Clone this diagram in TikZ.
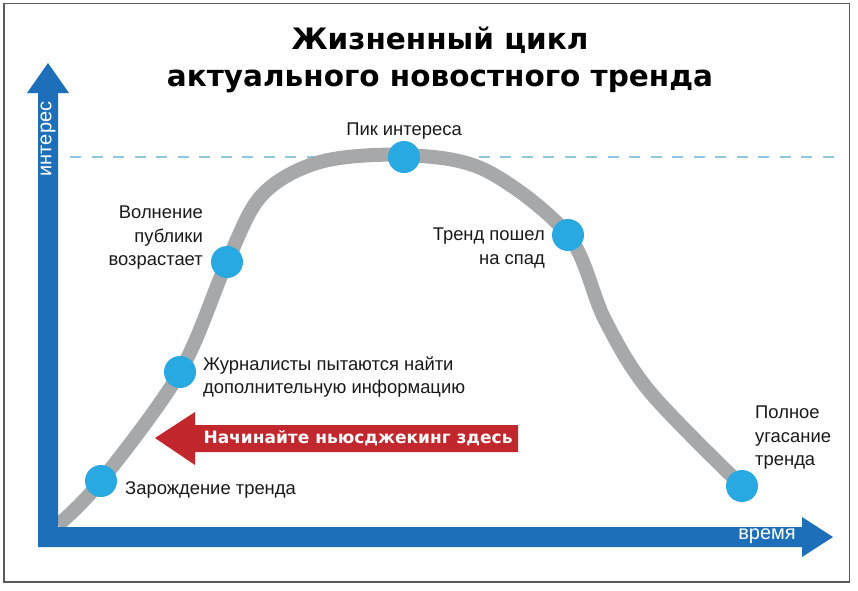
\documentclass[tikz,border=0pt]{standalone}
\usepackage{fontspec}
\setmainfont{Liberation Sans}
\newfontfamily\titlefont{DejaVu Sans}
\definecolor{axisblue}{HTML}{1E6FBA}
\definecolor{dotblue}{HTML}{29A9E1}
\definecolor{curvegray}{HTML}{A7A8AA}
\definecolor{dashblue}{HTML}{8EC8E0}
\definecolor{arrowred}{HTML}{C1272D}
\definecolor{framegray}{HTML}{5A5A5A}
\begin{document}
\begin{tikzpicture}[x=1pt,y=-1pt,
  dot/.style={circle,fill=dotblue,minimum size=32pt,inner sep=0pt},
  lbl/.style={font=\fontsize{18.4}{23.5}\selectfont,text=black!90,inner sep=0pt},
  axislbl/.style={font=\fontsize{20}{22}\selectfont,text=white,inner sep=0pt},
  titletxt/.style={font=\titlefont\bfseries\fontsize{29.5}{34}\selectfont,text=black,inner sep=0pt,anchor=base}]
\useasboundingbox (0,0) rectangle (858,590);
\fill[white] (0,0) rectangle (858,590);
\draw[framegray,line width=1.5pt] (4,3.5) rectangle (849.5,582);
% title
\node[titletxt] (t1) at (440,49) {Жизненный цикл};
\node[titletxt] (t2) at (440,86) {актуального новостного тренда};
% dashed peak level
\coordinate (d1) at (70,157);
\coordinate (d2) at (835,157);
\draw[dashblue,line width=1.8pt,dash pattern=on 11pt off 10.5pt] (d1) -- (d2);
% curve
\coordinate (c0) at (58,525);
\coordinate (c1) at (101,481);
\coordinate (c2) at (180,372);
\coordinate (c3) at (227,262);
\coordinate (c4) at (404,157);
\coordinate (c5) at (568,235);
\coordinate (c6) at (742,486);
\draw[curvegray,line width=14pt] plot[smooth,tension=0.55] coordinates {(58,525) (101,481) (180,372) (227,262) (262,195) (320,162) (404,155) (485,170) (568,235) (605,320) (650,392) (742,486)};
% axes
\fill[axisblue] (38,547) -- (802,547) -- (802,557) -- (833,537) -- (802,517) -- (802,527) -- (58,527) -- (58,93) -- (69,93) -- (48,63) -- (27,93) -- (38,93) -- cycle;
\node[axislbl,rotate=90] (ylbl) at (48,139) {интерес};
\node[axislbl] (xlbl) at (767,536) {время};
% red arrow
\fill[arrowred] (155,438) -- (195,412) -- (195,425) -- (518,425) -- (518,452) -- (195,452) -- (195,465) -- cycle;
\node[font=\titlefont\bfseries\fontsize{17}{20}\selectfont,text=white,inner sep=0pt] (news) at (358,438) {Начинайте ньюсджекинг здесь};
% points
\node[dot] (p1) at (c1) {};
\node[dot] (p2) at (c2) {};
\node[dot] (p3) at (c3) {};
\node[dot] (p4) at (c4) {};
\node[dot] (p5) at (c5) {};
\node[dot] (p6) at (c6) {};
% labels
\node[lbl,anchor=west] (l1) at (125,490) {Зарождение тренда};
\node[lbl,anchor=west,align=left] (l2) at (203,377) {Журналисты пытаются найти\\дополнительную информацию};
\node[lbl,anchor=east,align=right] (l3) at (203,238) {Волнение\\публики\\возрастает};
\node[lbl] (l4) at (404,131) {Пик интереса};
\node[lbl,anchor=east,align=right] (l5) at (545,248) {Тренд пошел\\на спад};
\node[lbl,anchor=west,align=left] (l6) at (755,438) {Полное\\угасание\\тренда};
\end{tikzpicture}
\end{document}
